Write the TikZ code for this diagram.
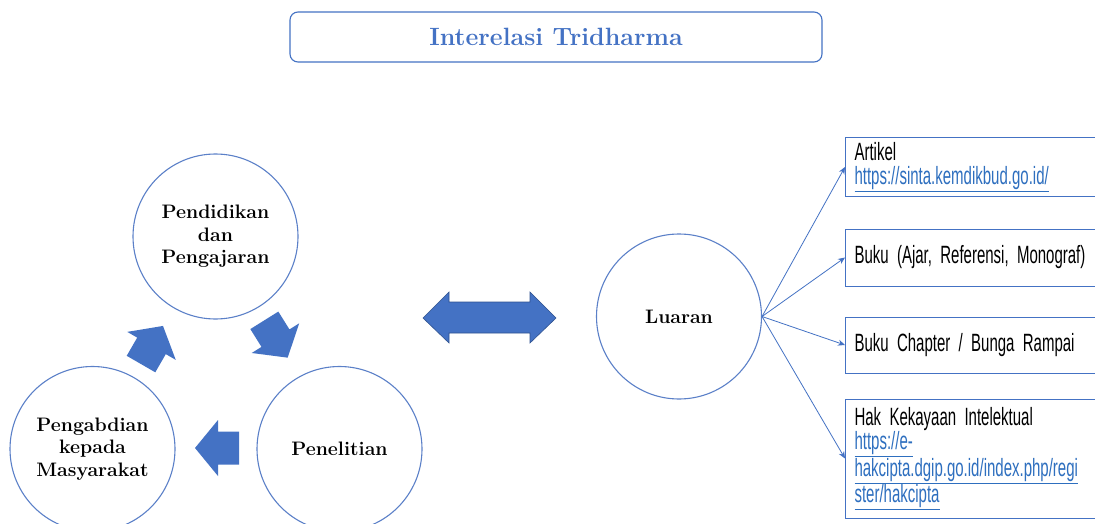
\documentclass[tikz,border=0pt]{standalone}
\usepackage{fontspec}
\newfontfamily\boxfont[FakeStretch=0.6]{Liberation Sans}
\usetikzlibrary{arrows.meta}
\definecolor{ablue}{HTML}{4472C4}
\definecolor{cblue}{HTML}{5B80C8}
\definecolor{lblue}{HTML}{2E6FBF}
\definecolor{aedge}{HTML}{2F528F}
\newcommand\lnk[1]{\textcolor{lblue}{\underline{#1}}}
\newcommand\narrowspaces{\fontdimen2\font=4.5pt\fontdimen3\font=0pt\fontdimen4\font=0pt}
\newcommand\blockarrow[3]{%
  \fill[ablue, shift={(#1,#2)}, rotate=#3] (22,0) -- (-1,28) -- (-1,16.5) -- (-22,16.5) -- (-22,-16.5) -- (-1,-16.5) -- (-1,-28) -- cycle;}
\tikzset{
  circ/.style={circle, draw=cblue, line width=1.1pt, minimum size=165pt, inner sep=0pt, align=center,
    font=\bfseries\fontsize{19.5}{22.5}\selectfont},
  outbox/.style={draw=ablue, line width=1pt, anchor=west, text width=246pt, inner xsep=9pt, inner ysep=0pt,
    align=left, font=\boxfont\fontsize{25}{24.5}\selectfont\narrowspaces},
  conn/.style={draw=ablue, line width=0.8pt, -{Stealth[length=7pt,width=6pt]}},
}
\begin{document}
\begin{tikzpicture}[x=1pt,y=-1pt]
\useasboundingbox (0,0) rectangle (1095,524);
\clip (0,0) rectangle (1095,524);
\fill[white] (0,0) rectangle (1095,524);
% title
\node[draw=ablue, line width=1.1pt, rounded corners=8pt, minimum width=532pt, minimum height=50pt,
  text=ablue, font=\bfseries\fontsize{25}{29}\selectfont] (title) at (556,37) {Interelasi Tridharma};
% cycle circles
\node[circ] (pend) at (215.5,236.5) {Pendidikan\\dan\\Pengajaran};
\node[circ] (peng) at (92.5,449) {Pengabdian\\kepada\\Masyarakat};
\node[circ] (pene) at (339.5,449) {Penelitian};
\node[circ] (lu) at (679,316.5) {Luaran};
% cycle arrows
\blockarrow{152}{345}{60}
\blockarrow{276}{339}{-58}
\blockarrow{217}{448}{180}
% double arrow
\draw[aedge, line width=0.6pt, fill=ablue] (423,318) -- (449,292) -- (449,302) -- (530,302) -- (530,292) -- (556,318)
  -- (530,343) -- (530,333) -- (449,333) -- (449,343) -- cycle;
% output boxes
\node[outbox, minimum height=58pt] (b1) at (845,167) {Artikel\\\lnk{https://sinta.kemdikbud.go.id/}};
\node[outbox, minimum height=57pt] (b2) at (845,257.5) {Buku (Ajar, Referensi, Monograf)};
\node[outbox, minimum height=56pt] (b3) at (845,345) {Buku Chapter / Bunga Rampai};
\node[outbox, minimum height=119pt] (b4) at (845,458.5) {Hak Kekayaan Intelektual\\\lnk{https://e-}\\\lnk{hakcipta.dgip.go.id/index.php/regi}\\\lnk{ster/hakcipta}};
% connectors
\draw[conn] (lu.east) -- (b1.west);
\draw[conn] (lu.east) -- (b2.west);
\draw[conn] (lu.east) -- (b3.west);
\draw[conn] (lu.east) -- (b4.west);
\end{tikzpicture}
\end{document}
